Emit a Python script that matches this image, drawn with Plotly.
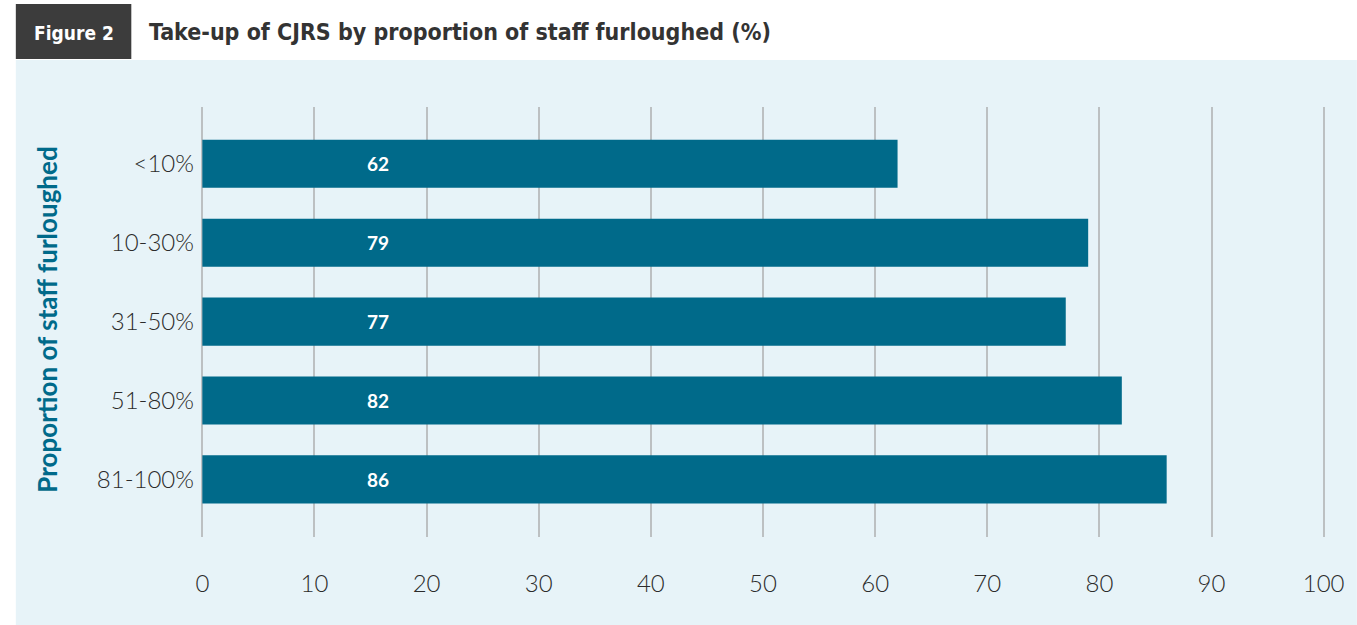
import plotly.graph_objects as go

# Chart data
categories = ["<10%", "10-30%", "31-50%", "51-80%", "81-100%"]
takeup = [62, 79, 77, 82, 86]
x_ticks = [0, 10, 20, 30, 40, 50, 60, 70, 80, 90, 100]

title_text = "Take-up of CJRS by proportion of staff furloughed (%)"
figure_label = "Figure 2"
y_title = "Proportion of staff furloughed"

W, H = 1357, 625
# range is padded slightly so the 0 and 100 gridlines are drawn
X_MIN, X_MAX = -0.12, 100.12
PX_PER_UNIT = 11.27
M_L = round(202 + X_MIN * PX_PER_UNIT)
M_R = round(W - (202 + X_MAX * PX_PER_UNIT))
M_T, M_B = 107, 88
PW, PH = W - M_L - M_R, H - M_T - M_B

BAR = "#006a8a"
PANEL = "#e7f3f8"
GRID = "#bcc0c2"
TEXT = "#2b2b2b"


def px(xp):
    return (xp - M_L) / PW


def py(yp):
    return (H - M_B - yp) / PH


fig = go.Figure()
fig.add_trace(go.Bar(
    y=categories,
    x=takeup,
    orientation="h",
    marker=dict(color=BAR, line=dict(width=0)),
    width=0.61,
    hoverinfo="skip",
))

annotations = []
# value labels sit at a fixed position inside each bar
for cat, val in zip(categories, takeup):
    annotations.append(dict(
        x=15.7, y=cat, xref="x", yref="y", text=f"<b>{val}</b>",
        showarrow=False, font=dict(family="Lato, 'DejaVu Sans'", size=19, color="white"),
        xanchor="center", yanchor="middle",
    ))

annotations += [
    dict(text=f"<b>{figure_label}</b>", xref="paper", yref="paper", x=px(73), y=py(33),
         xanchor="center", yanchor="middle", showarrow=False,
         font=dict(family="'Liberation Sans Narrow', 'DejaVu Sans Condensed', sans-serif",
                   size=19, color="white")),
    dict(text=f"<b>{title_text}</b>", xref="paper", yref="paper", x=px(147), y=py(32),
         xanchor="left", yanchor="middle", showarrow=False,
         font=dict(family="'Liberation Sans Narrow', 'DejaVu Sans Condensed', sans-serif",
                   size=23, color="#333333")),
    dict(text=f"<b>{y_title}</b>", xref="paper", yref="paper", x=px(46), y=py(320),
         xanchor="center", yanchor="middle", textangle=-90, showarrow=False,
         font=dict(family="Lato, 'Open Sans', sans-serif", size=26, color=BAR)),
]

shapes = [
    # light panel behind the chart
    dict(type="rect", xref="paper", yref="paper", x0=px(15), x1=px(W + 5),
         y0=py(H + 5), y1=py(60), fillcolor=PANEL, line=dict(width=0), layer="below"),
    # figure label box
    dict(type="rect", xref="paper", yref="paper", x0=px(15), x1=px(131),
         y0=py(59), y1=py(4), fillcolor="#3c3c3c", line=dict(width=0), layer="below"),
]

fig.update_layout(
    width=W, height=H,
    margin=dict(l=M_L, r=M_R, t=M_T, b=M_B),
    paper_bgcolor="white",
    plot_bgcolor="rgba(0,0,0,0)",
    showlegend=False,
    shapes=shapes,
    annotations=annotations,
    xaxis=dict(
        range=[X_MIN, X_MAX], tickvals=x_ticks, showgrid=True, gridcolor=GRID, gridwidth=1.5,
        zeroline=False, showline=False, ticks="", ticklabelstandoff=30,
        tickfont=dict(family="Lato, 'Open Sans', sans-serif", size=24, color=TEXT, weight=300),
        fixedrange=True,
    ),
    yaxis=dict(
        categoryorder="array", categoryarray=categories, autorange=False,
        range=[4.73, -0.72], showgrid=False, zeroline=False, showline=False, ticks="",
        ticklabelstandoff=6,
        tickfont=dict(family="Lato, 'Open Sans', sans-serif", size=24, color=TEXT, weight=300),
        fixedrange=True,
    ),
)

fig.write_html("out.html", config={"displayModeBar": False})
